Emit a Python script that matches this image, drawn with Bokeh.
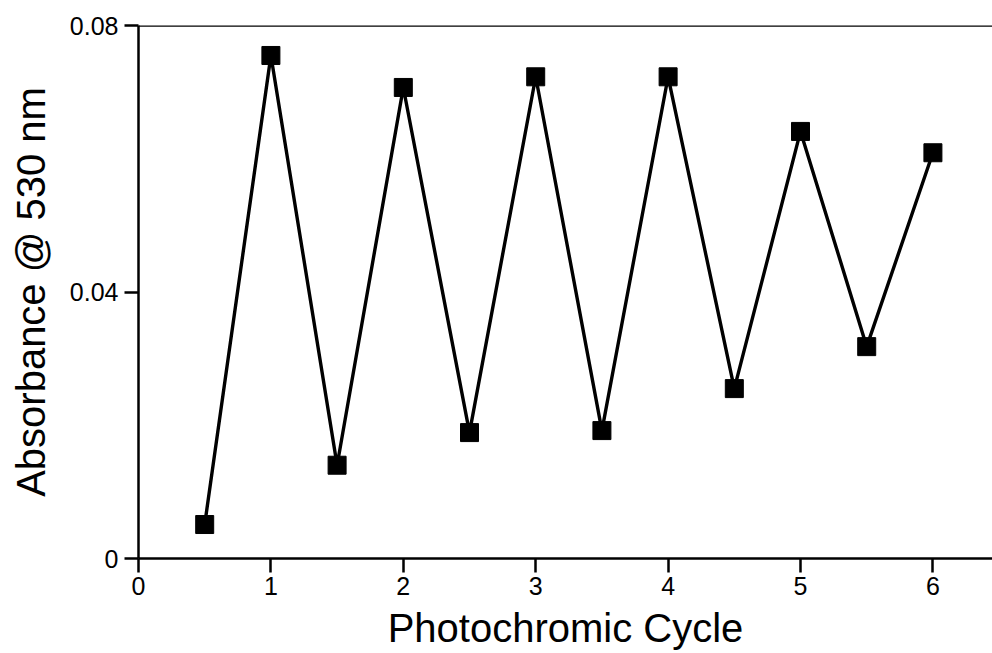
from bokeh.plotting import figure
from bokeh.models import Range1d, FixedTicker, Span
from bokeh.embed import file_html
from bokeh.resources import INLINE

# Absorbance at 530 nm over alternating irradiation half-cycles
cycle = [0.5, 1.0, 1.5, 2.0, 2.5, 3.0, 3.5, 4.0, 4.5, 5.0, 5.5, 6.0]
absorbance = [0.0051, 0.0755, 0.0140, 0.0707, 0.0189, 0.0723,
              0.0192, 0.0723, 0.0255, 0.0641, 0.0318, 0.0609]

x_ticks = [0, 1, 2, 3, 4, 5, 6]
y_ticks = [0, 0.04, 0.08]
y_tick_labels = {0: "0", 0.04: "0.04", 0.08: "0.08"}

FONT = "Liberation Sans"

p = figure(width=992, height=653, output_backend="svg", toolbar_location=None,
           x_range=Range1d(0, 6.45), y_range=Range1d(0, 0.08),
           min_border_left=138, min_border_right=0, min_border_top=25,
           min_border_bottom=95)
p.outline_line_color = None
p.grid.visible = False
p.background_fill_color = "white"
p.border_fill_color = "white"

p.line(cycle, absorbance, line_color="black", line_width=3.4)
p.scatter(cycle, absorbance, marker="square", size=18, fill_color="black",
          line_color="black")

# top frame line
p.add_layout(Span(location=0.08, dimension="width", line_color="black",
                  line_width=2.5))

xa = p.xaxis[0]
xa.ticker = FixedTicker(ticks=x_ticks)
xa.minor_tick_line_color = None
xa.axis_line_width = 2.5
xa.major_tick_line_width = 2.5
xa.major_tick_out = 14
xa.major_tick_in = 0
xa.major_label_text_font = FONT
xa.major_label_text_font_size = "25px"
xa.major_label_text_color = "black"
xa.major_label_standoff = 4
xa.axis_label = "Photochromic Cycle"
xa.axis_label_text_font = FONT
xa.axis_label_text_font_size = "40px"
xa.axis_label_text_font_style = "normal"
xa.axis_label_text_color = "black"
xa.axis_label_standoff = 8

ya = p.yaxis[0]
ya.ticker = FixedTicker(ticks=y_ticks)
ya.major_label_overrides = y_tick_labels
ya.minor_tick_line_color = None
ya.axis_line_width = 2.5
ya.major_tick_line_width = 2.5
ya.major_tick_out = 14
ya.major_tick_in = 0
ya.major_label_text_font = FONT
ya.major_label_text_font_size = "25px"
ya.major_label_text_color = "black"
ya.major_label_standoff = 6
ya.axis_label = "Absorbance @ 530 nm"
ya.axis_label_text_font = FONT
ya.axis_label_text_font_size = "40px"
ya.axis_label_text_font_style = "normal"
ya.axis_label_text_color = "black"
ya.axis_label_standoff = 14

open("out.html", "w").write(file_html(p, INLINE))
